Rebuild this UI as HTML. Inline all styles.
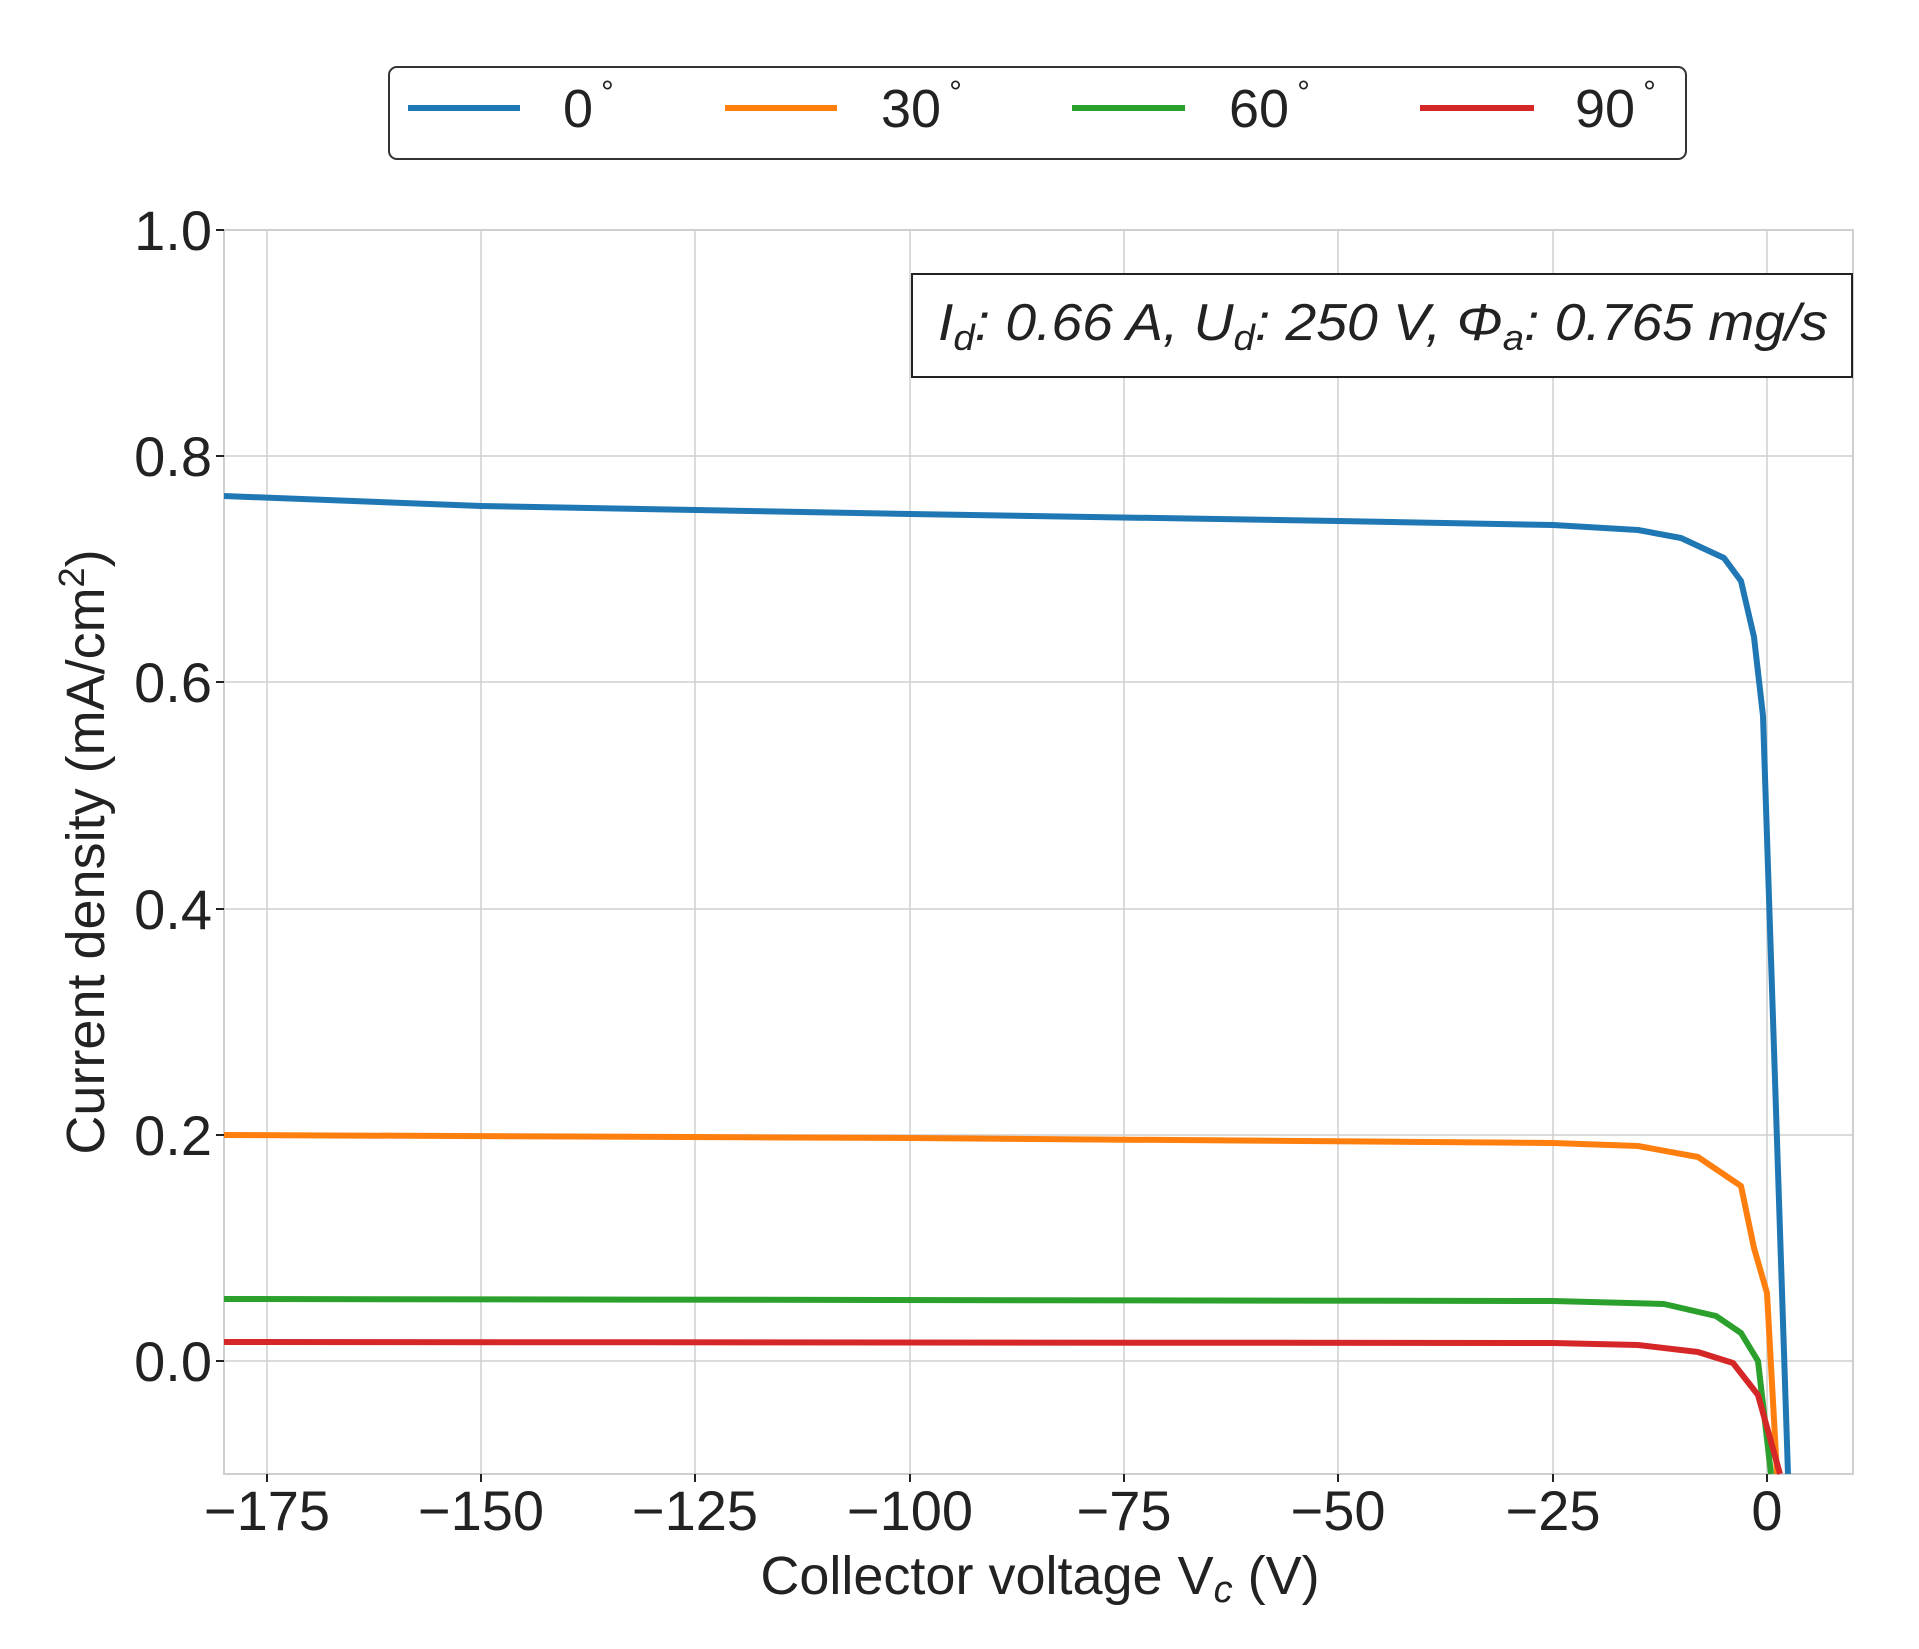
<!DOCTYPE html>
<html><head><meta charset="utf-8"><style>body{margin:0;background:#fff}</style></head><body>
<svg width="1919" height="1644" xmlns="http://www.w3.org/2000/svg" font-family="Liberation Sans, Arial, sans-serif" fill="#222">
<rect width="1919" height="1644" fill="#fff"/>
<g stroke="#cfcfcf" stroke-width="1.5">
<line x1="267" y1="230" x2="267" y2="1474"/><line x1="481" y1="230" x2="481" y2="1474"/><line x1="695" y1="230" x2="695" y2="1474"/><line x1="910" y1="230" x2="910" y2="1474"/><line x1="1124" y1="230" x2="1124" y2="1474"/><line x1="1338" y1="230" x2="1338" y2="1474"/><line x1="1553" y1="230" x2="1553" y2="1474"/><line x1="1767" y1="230" x2="1767" y2="1474"/>
<line x1="224" y1="1361" x2="1853" y2="1361"/><line x1="224" y1="1135" x2="1853" y2="1135"/><line x1="224" y1="909" x2="1853" y2="909"/><line x1="224" y1="682" x2="1853" y2="682"/><line x1="224" y1="456" x2="1853" y2="456"/>
</g>
<rect x="224" y="230" width="1629" height="1244" fill="none" stroke="#cfcfcf" stroke-width="2"/>
<g stroke="#222" stroke-width="2">
<line x1="216" y1="230" x2="224" y2="230"/><line x1="216" y1="456" x2="224" y2="456"/><line x1="216" y1="682" x2="224" y2="682"/><line x1="216" y1="909" x2="224" y2="909"/><line x1="216" y1="1135" x2="224" y2="1135"/><line x1="216" y1="1361" x2="224" y2="1361"/>
<line x1="267" y1="1474" x2="267" y2="1482"/><line x1="481" y1="1474" x2="481" y2="1482"/><line x1="695" y1="1474" x2="695" y2="1482"/><line x1="910" y1="1474" x2="910" y2="1482"/><line x1="1124" y1="1474" x2="1124" y2="1482"/><line x1="1338" y1="1474" x2="1338" y2="1482"/><line x1="1553" y1="1474" x2="1553" y2="1482"/><line x1="1767" y1="1474" x2="1767" y2="1482"/>
</g>
<g font-size="56" text-anchor="end">
<text x="212" y="250">1.0</text><text x="212" y="476">0.8</text><text x="212" y="702">0.6</text><text x="212" y="929">0.4</text><text x="212" y="1155">0.2</text><text x="212" y="1381">0.0</text>
</g>
<g font-size="56" text-anchor="middle">
<text x="267" y="1530">−175</text><text x="481" y="1530">−150</text><text x="695" y="1530">−125</text><text x="910" y="1530">−100</text><text x="1124" y="1530">−75</text><text x="1338" y="1530">−50</text><text x="1553" y="1530">−25</text><text x="1767" y="1530">0</text>
</g>
<text x="1040" y="1594" font-size="54" text-anchor="middle">Collector voltage V<tspan font-style="italic" font-size="38" dy="8">c</tspan><tspan dy="-8"> (V)</tspan></text>
<text transform="translate(104,852) rotate(-90)" font-size="54" text-anchor="middle">Current density (mA/cm<tspan font-size="36" dy="-20">2</tspan><tspan dy="20">)</tspan></text>
<g fill="none" stroke-width="6" stroke-linejoin="round">
<polyline stroke="#1f77b4" points="224,496 481,506 910,514 1338,521 1553,525 1638,530 1681,538 1724,558 1741,581 1754,637 1763,716 1788,1474"/>
<polyline stroke="#ff7f0e" points="224,1135 910,1138 1553,1143 1638,1146 1698,1157 1741,1186 1754,1248 1767,1293 1777,1474"/>
<polyline stroke="#2ca02c" points="224,1299 1553,1301 1664,1304 1716,1316 1741,1333 1758,1361 1771,1474"/>
<polyline stroke="#d62728" points="224,1342 1553,1343 1638,1345 1698,1352 1733,1363 1758,1395 1780,1474"/>
</g>
<rect x="912" y="274" width="940" height="103" fill="#fff" stroke="#222" stroke-width="2"/>
<text x="938" y="340" font-size="52" font-style="italic" textLength="890" lengthAdjust="spacingAndGlyphs">I<tspan font-size="36" dy="10">d</tspan><tspan dy="-10">: 0.66 A, U</tspan><tspan font-size="36" dy="10">d</tspan><tspan dy="-10">: 250 V, Φ</tspan><tspan font-size="36" dy="10">a</tspan><tspan dy="-10">: 0.765 mg/s</tspan></text>
<rect x="389" y="67" width="1297" height="92" rx="8" fill="#fff" stroke="#333" stroke-width="2"/>
<g stroke-width="6">
<line x1="408" y1="108" x2="520" y2="108" stroke="#1f77b4"/>
<line x1="725" y1="108" x2="837" y2="108" stroke="#ff7f0e"/>
<line x1="1072" y1="108" x2="1185" y2="108" stroke="#2ca02c"/>
<line x1="1420" y1="108" x2="1534" y2="108" stroke="#d62728"/>
</g>
<g font-size="54">
<text x="563" y="127">0<tspan font-size="32" dx="8" dy="-24">°</tspan></text>
<text x="881" y="127">30<tspan font-size="32" dx="8" dy="-24">°</tspan></text>
<text x="1229" y="127">60<tspan font-size="32" dx="8" dy="-24">°</tspan></text>
<text x="1575" y="127">90<tspan font-size="32" dx="8" dy="-24">°</tspan></text>
</g>
</svg>
</body></html>
